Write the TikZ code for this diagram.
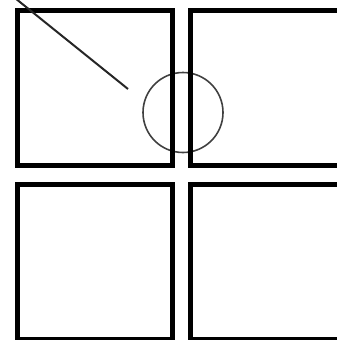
\documentclass[tikz,border=0pt]{standalone}
\usetikzlibrary{positioning}
\tikzset{panel/.style={rectangle,draw,line width=5pt,minimum size=155pt,inner sep=0pt,outer sep=0pt},ring/.style={circle,draw=black!75,line width=1.6pt,minimum size=80pt,inner sep=0pt},ray/.style={draw=black!85,line width=2pt}}

\begin{document}
\begin{tikzpicture}[x=1pt,y=-1pt,node distance=19pt and 18pt]
\useasboundingbox (0,0) rectangle (337,340);
\clip (0,0) rectangle (337,340);
\node[ring] (lens) at (183,112.5) {};
\node[panel] (tl) at (95,87.5) {};
\node[panel, right=of tl] (tr) {};
\node[panel, below=of tl] (bl) {};
\node[panel, below=of tr] (br) {};
\coordinate (src) at (5,-10);
\coordinate (tip) at (128,89);
\draw[ray] (src) -- (tip);
\end{tikzpicture}
\end{document}
